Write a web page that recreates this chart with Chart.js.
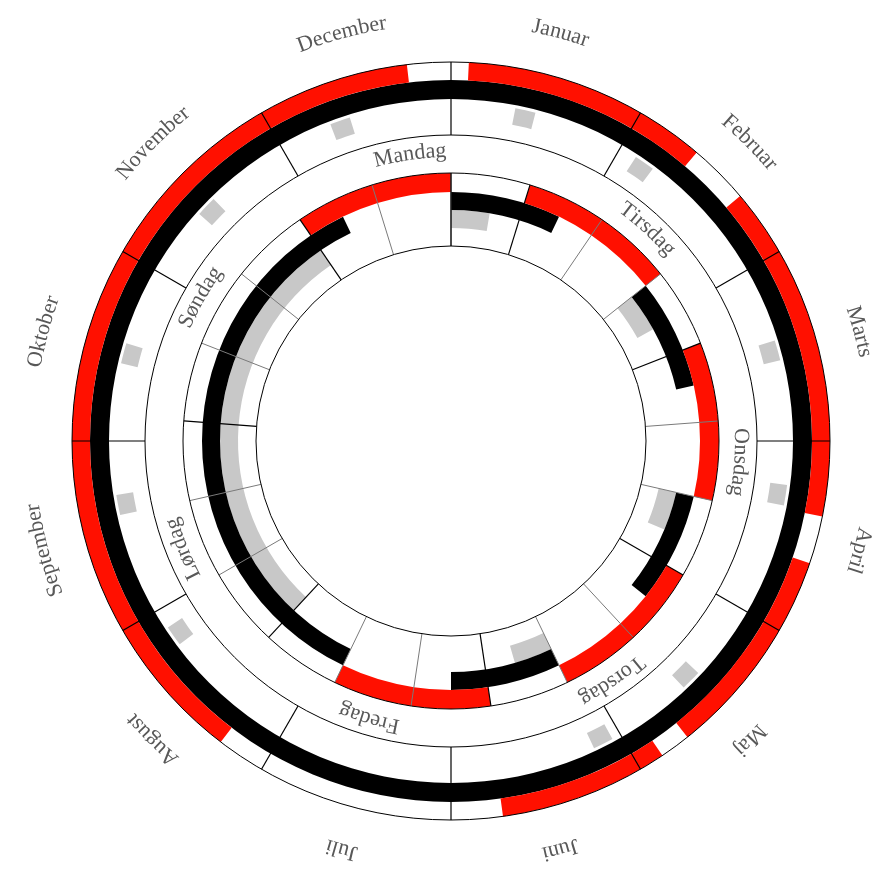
<!DOCTYPE html>
<html><head><meta charset="utf-8">
<script src="https://cdn.jsdelivr.net/npm/chart.js@4.4.1/dist/chart.umd.min.js"></script>
<style>html,body{margin:0;padding:0;background:#fff;}#wrap{width:876px;height:869px;}canvas{display:block;}</style>
</head><body><div id="wrap"><canvas id="c" width="876" height="869"></canvas></div>
<script>
// ---- data ----
const months = ['Januar','Februar','Marts','April','Maj','Juni','Juli','August','September','Oktober','November','December'];
const weekdays = ['Mandag','Tirsdag','Onsdag','Torsdag','Fredag','Lørdag','Søndag'];
// month ring, positions in months from 1 January (0..12)
const monthRed = [[0.09,1.347],[1.657,3.383],[3.627,4.713],[4.87,5.737],[7.247,11.777]];
const monthBlack = [[0,12]];
const monthGray = [[0.365,0.481],[1.102,1.218],[2.425,2.541],[3.249,3.365],[4.439,4.555],[5.052,5.168],[7.772,7.888],[8.579,8.695],[9.442,9.558],[10.402,10.518],[11.305,11.421]];
// week ring, positions in hours from Monday 00:00 (0..168)
const weekRed = [[8,24],[32,48],[56,72],[80,96],[104,120]];
const weekBlack = [[0,12],[24,36],[48,60],[72,84],[96,108],[120,168]];
const weekGray = [[0,8],[24,28.5],[48,52.5],[72,76.5],[96,100.5],[128,168]];
const dayMarksGray = [0,16];
const dayMarksBlack = [8];

const MONTH_TOTAL = 12, WEEK_TOTAL = 168;
const weekTopHour = 24;
const RED = '#ff1000', BLACK = '#000000', GRAY = '#c8c8c8', NONE = 'rgba(0,0,0,0)';

function segments(intervals, total, start, color) {
  const iv = intervals.map(([a,b]) => { while (a < start) { a += total; b += total; } return [a,b]; })
                      .sort((p,q) => p[0]-q[0]);
  const merged = [];
  iv.forEach(([a,b]) => {
    const last = merged[merged.length-1];
    if (last && a <= last[1] + 1e-9) last[1] = Math.max(last[1], b); else merged.push([a,b]);
  });
  const data = [], colors = [];
  let pos = start;
  merged.forEach(([a,b]) => {
    if (a > pos) { data.push(a-pos); colors.push(NONE); }
    data.push(b - Math.max(a,pos)); colors.push(color); pos = b;
  });
  if (pos < start + total - 1e-9) { data.push(start + total - pos); colors.push(NONE); }
  return {data, colors};
}
const common = {borderWidth:0, hoverBorderWidth:0, hoverOffset:0, offset:0};
function ring(intervals, total, start, color, weight) {
  const s = segments(intervals, total, start, color);
  return Object.assign({data:s.data, backgroundColor:s.colors, weight}, common);
}
function blank(weight) { return Object.assign({data:[1], backgroundColor:[NONE], weight}, common); }

const datasets = [
  ring(monthRed, MONTH_TOTAL, 0, RED, 18),
  ring(monthBlack, MONTH_TOTAL, 0, BLACK, 19),
  blank(3),
  ring(monthGray, MONTH_TOTAL, 0, GRAY, 17),
  blank(16),
  blank(38),
  ring(weekRed, WEEK_TOTAL, weekTopHour, RED, 19),
  ring(weekBlack, WEEK_TOTAL, weekTopHour, BLACK, 18),
  ring(weekGray, WEEK_TOTAL, weekTopHour, GRAY, 18),
  blank(18)
];

function arcText(ctx, text, cx, cy, r, angDeg, align) {
  const total = ctx.measureText(text).width;
  let a = angDeg * Math.PI / 180;
  if (align === 'center') a -= total / r / 2;
  for (const ch of text) {
    const w = ctx.measureText(ch).width;
    const m = a + w / 2 / r;
    ctx.save(); ctx.translate(cx, cy); ctx.rotate(m);
    ctx.fillText(ch, 0, -r);
    ctx.restore();
    a += w / r;
  }
}

const gridPlugin = {
  id: 'grid',
  afterDatasetsDraw(chart) {
    const ctx = chart.ctx;
    const e0 = chart.getDatasetMeta(0).data[0];
    const cx = e0.x, cy = e0.y;
    const rMO = e0.outerRadius;
    const rMI = chart.getDatasetMeta(4).data[0].innerRadius;
    const rWO = chart.getDatasetMeta(6).data[0].outerRadius;
    const rWI = chart.getDatasetMeta(9).data[0].innerRadius;
    const radial = (deg, r1, r2, color, lw) => {
      const a = (deg - 90) * Math.PI / 180;
      ctx.beginPath(); ctx.strokeStyle = color; ctx.lineWidth = lw;
      ctx.moveTo(cx + r1*Math.cos(a), cy + r1*Math.sin(a));
      ctx.lineTo(cx + r2*Math.cos(a), cy + r2*Math.sin(a));
      ctx.stroke();
    };
    ctx.save();
    // week ring marks
    const hToDeg = h => (h - weekTopHour) * 360 / WEEK_TOTAL;
    for (let d = 0; d < 7; d++) {
      dayMarksGray.forEach(h => radial(hToDeg(24*d + h), rWI, rWO, '#7a7a7a', 1));
      dayMarksBlack.forEach(h => radial(hToDeg(24*d + h), rWI, rWO, '#000', 1.2));
    }
    radial(0, rWI, rWO, '#000', 1.2);
    // month ring marks
    for (let k = 0; k < 12; k++) radial(k * 360 / MONTH_TOTAL, rMI, rMO, '#000', 1.2);
    // circles
    [rMO, rMI, rWO, rWI].forEach(r => {
      ctx.beginPath(); ctx.strokeStyle = '#000'; ctx.lineWidth = 1;
      ctx.arc(cx, cy, r, 0, Math.PI*2); ctx.stroke();
    });
    // labels
    ctx.fillStyle = '#585858';
    ctx.font = '22px "Liberation Serif", "DejaVu Serif", serif';
    ctx.textAlign = 'center'; ctx.textBaseline = 'alphabetic';
    months.forEach((m, k) => arcText(ctx, m, cx, cy, rMO + 38, (k + 0.5) * 360 / MONTH_TOTAL, 'center'));
    weekdays.forEach((w, d) => arcText(ctx, w, cx, cy, rWO + 16, hToDeg(24*d + 16.8), 'start'));
    ctx.restore();
  }
};

new Chart(document.getElementById('c'), {
  type: 'doughnut',
  data: { datasets },
  options: {
    responsive: false,
    animation: false,
    events: [],
    rotation: 0,
    radius: 379,
    cutout: (195 / 379 * 100) + '%',
    layout: { padding: { left: 72, right: 46, top: 62, bottom: 49 } },
    plugins: { legend: { display: false }, tooltip: { enabled: false } }
  },
  plugins: [gridPlugin]
});
</script>
</body></html>
